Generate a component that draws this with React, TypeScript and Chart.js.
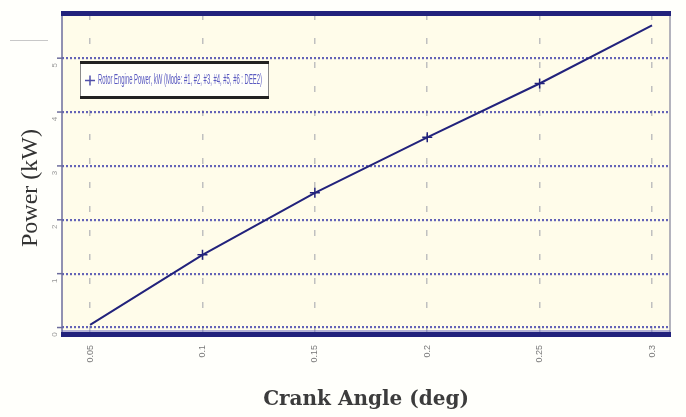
import { useEffect, useRef } from "react";
import { Chart, registerables } from "chart.js";

Chart.register(...registerables);

// Crank angle samples and the engine power at each of them
const crankAngles = [0.05, 0.1, 0.15, 0.2, 0.25, 0.3];
const powerKW = [0.05, 1.35, 2.5, 3.53, 4.53, 5.61];
const markerSizes = [0, 5, 5, 5, 5, 0];

const xTickLabels = ["0.05", "0.1", "0.15", "0.2", "0.25", "0.3"];
const yTickValues = [0, 1, 2, 3, 4, 5];
const yTickLabels = ["0", "1", "2", "3", "4", "5"];

const seriesName = "Rotor Engine Power, kW (Mode: #1, #2, #3, #4, #5, #6 : DEE2)";
const xTitle = "Crank Angle (deg)";
const yTitle = "Power (kW)";

const NAVY = "#22227c";

const framePlugin = {
  id: "frame",
  beforeDraw(chart: any) {
    const { ctx, chartArea: a, width, height } = chart;
    ctx.save();
    ctx.fillStyle = "#fffffb";
    ctx.fillRect(0, 0, width, height);
    ctx.fillStyle = "#fffcea";
    ctx.fillRect(a.left, a.top, a.right - a.left, a.bottom - a.top);
    ctx.restore();
  },
  afterDraw(chart: any) {
    const { ctx, chartArea: a, scales } = chart;
    const ys = scales.y;
    ctx.save();

    // side borders
    ctx.lineWidth = 1.5;
    ctx.strokeStyle = "#6c6c9c";
    ctx.beginPath();
    ctx.moveTo(a.left, a.top);
    ctx.lineTo(a.left, a.bottom + 3);
    ctx.stroke();
    ctx.strokeStyle = "#9a9aaa";
    ctx.beginPath();
    ctx.moveTo(a.right, a.top);
    ctx.lineTo(a.right, a.bottom + 3);
    ctx.stroke();

    // heavy top and bottom rules
    ctx.fillStyle = NAVY;
    ctx.fillRect(a.left - 1, a.top - 3, a.right - a.left + 2, 5);
    ctx.fillStyle = "rgba(90,90,190,0.45)";
    ctx.fillRect(a.left, a.bottom - 4, a.right - a.left, 2);
    ctx.fillStyle = NAVY;
    ctx.fillRect(a.left - 1, a.bottom - 2, a.right - a.left + 2, 5);

    // y ticks with small rotated labels
    ctx.strokeStyle = "#6c6c9c";
    ctx.lineWidth = 1.5;
    ctx.fillStyle = "#9a9a9a";
    ctx.font = "8px 'Liberation Sans'";
    ctx.textAlign = "center";
    ctx.textBaseline = "bottom";
    yTickValues.forEach((v, i) => {
      const y = ys.getPixelForValue(v);
      ctx.beginPath();
      ctx.moveTo(a.left - 5, y);
      ctx.lineTo(a.left, y);
      ctx.stroke();
      ctx.save();
      ctx.translate(a.left - 3, y + 7);
      ctx.rotate(-Math.PI / 2);
      ctx.fillText(yTickLabels[i], 0, 0);
      ctx.restore();
    });

    // y-axis title
    ctx.save();
    ctx.translate(31, 188);
    ctx.rotate(-Math.PI / 2);
    ctx.fillStyle = "#333333";
    ctx.font = "24px 'Liberation Serif'";
    ctx.textAlign = "center";
    ctx.textBaseline = "middle";
    ctx.fillText(yTitle, 0, 0, 118);
    ctx.restore();

    // legend box
    const bx = 80, by = 62, bw = 188, bh = 35;
    ctx.fillStyle = "#fffffa";
    ctx.fillRect(bx, by, bw, bh);
    ctx.strokeStyle = "#8a8a8a";
    ctx.lineWidth = 1;
    ctx.strokeRect(bx + 0.5, by + 0.5, bw, bh);
    ctx.fillStyle = "#222222";
    ctx.fillRect(bx, by - 1, bw + 1, 3);
    ctx.fillRect(bx, by + bh - 1, bw + 1, 3);
    const my = by + bh / 2 + 1;
    ctx.strokeStyle = "#5050aa";
    ctx.lineWidth = 1.5;
    ctx.beginPath();
    ctx.moveTo(85, my);
    ctx.lineTo(95, my);
    ctx.moveTo(90, my - 5);
    ctx.lineTo(90, my + 5);
    ctx.stroke();
    ctx.fillStyle = "#5a5ac0";
    ctx.font = "15px 'Liberation Sans'";
    ctx.textAlign = "left";
    ctx.textBaseline = "middle";
    ctx.fillText(seriesName, 98, my - 1, 164);

    // stray rule at the top-left
    ctx.strokeStyle = "#c8c8c8";
    ctx.lineWidth = 1;
    ctx.beginPath();
    ctx.moveTo(10, 40.5);
    ctx.lineTo(48, 40.5);
    ctx.stroke();

    ctx.restore();
  },
};

export default function App() {
  const canvasRef = useRef<HTMLCanvasElement | null>(null);

  useEffect(() => {
    document.body.style.margin = "0";
    const canvas = canvasRef.current;
    if (!canvas) return;
    const chart = new Chart(canvas, {
      type: "line",
      data: {
        datasets: [
          {
            label: seriesName,
            data: crankAngles.map((x, i) => ({ x, y: powerKW[i] })),
            borderColor: NAVY,
            borderWidth: 2,
            pointStyle: "cross",
            pointRadius: markerSizes,
            pointBorderColor: NAVY,
            pointBorderWidth: 1.5,
            tension: 0,
            fill: false,
          },
        ],
      },
      options: {
        animation: false,
        responsive: true,
        maintainAspectRatio: false,
        layout: { padding: { left: 0, right: 16, top: 14, bottom: 0 } },
        plugins: {
          legend: { display: false },
          tooltip: { enabled: false },
        },
        scales: {
          x: {
            type: "linear",
            min: 0.0375,
            max: 0.308,
            afterBuildTicks: (s: any) => {
              s.ticks = crankAngles.map((v) => ({ value: v }));
            },
            afterFit: (s: any) => {
              s.height = 83;
            },
            ticks: {
              minRotation: 90,
              maxRotation: 90,
              autoSkip: false,
              padding: 11,
              color: "#7a7a7a",
              font: { size: 9, family: "'Liberation Sans'" },
              callback: (_v: any, i: number) => xTickLabels[i],
            },
            grid: { color: "#c0c0c0", lineWidth: 1.5, drawTicks: false },
            border: { display: false, dash: [6, 18] },
            title: {
              display: true,
              text: xTitle,
              color: "#3c3c3c",
              font: { family: "'DejaVu Serif'", size: 20, weight: "bold" },
              padding: { top: 0, bottom: 5 },
            },
          },
          y: {
            type: "linear",
            min: -0.12,
            max: 5.82,
            afterBuildTicks: (s: any) => {
              s.ticks = yTickValues.map((v) => ({ value: v }));
            },
            afterFit: (s: any) => {
              s.width = 62;
            },
            ticks: { display: false },
            grid: { color: "rgba(60,60,170,0.8)", lineWidth: 2.2, drawTicks: false },
            border: { display: false, dash: [2, 2] },
          },
        },
      },
      plugins: [framePlugin],
    });
    return () => chart.destroy();
  }, []);

  return (
    <div style={{ position: "fixed", left: 0, top: 0, width: 686, height: 417 }}>
      <canvas ref={canvasRef} />
    </div>
  );
}
